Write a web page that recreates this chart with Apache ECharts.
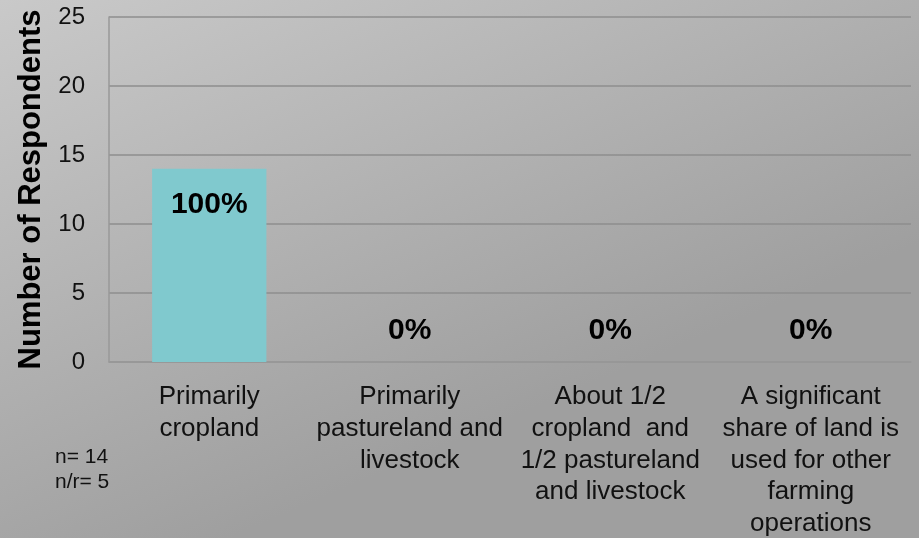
<!DOCTYPE html>
<html>
<head>
<meta charset="utf-8">
<script src="https://cdn.jsdelivr.net/npm/echarts@6/dist/echarts.min.js"></script>
<style>
html,body{margin:0;padding:0;}
#chart{width:919px;height:538px;}
</style>
</head>
<body>
<div id="chart"></div>
<script>
var categories = [
  'Primarily\ncropland',
  'Primarily\npastureland and\nlivestock',
  'About 1/2\ncropland  and\n1/2 pastureland\nand livestock',
  'A significant\nshare of land is\nused for other\nfarming\noperations'
];
var values = [14, 0, 0, 0];
var percentLabels = ['100%', '0%', '0%', '0%'];
var yTicks = { min: 0, max: 25, interval: 5 };
var notes = ['n= 14', 'n/r= 5'];

var FONT = '"Liberation Sans", Arial, sans-serif';
var chart = echarts.init(document.getElementById('chart'), null, { renderer: 'canvas' });

var seriesData = values.map(function (v, i) {
  return {
    value: v,
    label: v > 0
      ? { position: 'insideTop', distance: 21 }
      : { position: 'top', distance: 16 }
  };
});

chart.setOption({
  backgroundColor: {
    type: 'linear', x: 0, y: 0, x2: 0.25, y2: 1,
    colorStops: [
      { offset: 0, color: '#c9c9c9' },
      { offset: 1, color: '#9f9f9f' }
    ]
  },
  animation: false,
  grid: { left: 109, right: 8, top: 17, bottom: 176, containLabel: false, outerBoundsMode: 'none' },
  xAxis: {
    type: 'category',
    data: categories,
    axisLine: { show: true, lineStyle: { color: '#999999', width: 1.5 } },
    axisTick: { show: false },
    axisLabel: {
      interval: 0,
      color: '#111',
      fontFamily: FONT,
      fontSize: 26,
      lineHeight: 31.8,
      margin: 19,
      align: 'center'
    }
  },
  yAxis: {
    type: 'value',
    min: yTicks.min,
    max: yTicks.max,
    interval: yTicks.interval,
    name: 'Number of Respondents',
    nameLocation: 'middle',
    nameGap: 61,
    nameRotate: 90,
    nameTextStyle: {
      color: '#000',
      fontFamily: FONT,
      fontSize: 31,
      fontWeight: 'bold'
    },
    axisLine: { show: true, lineStyle: { color: '#999999', width: 1.5 } },
    axisTick: { show: false },
    axisLabel: {
      color: '#111',
      fontFamily: FONT,
      fontSize: 24,
      margin: 24
    },
    splitLine: { show: true, lineStyle: { color: '#8e8e8e', width: 1.5 } }
  },
  series: [{
    type: 'bar',
    data: seriesData,
    barWidth: '57%',
    itemStyle: { color: '#80c9ce' },
    label: {
      show: true,
      color: '#000',
      fontFamily: FONT,
      fontSize: 30,
      fontWeight: 'bold',
      formatter: function (p) { return percentLabels[p.dataIndex]; }
    }
  }],
  graphic: notes.map(function (t, i) {
    return {
      type: 'text',
      left: 55,
      top: 447 + i * 25,
      style: { text: t, fill: '#111', font: '21px ' + FONT }
    };
  })
});
</script>
</body>
</html>
